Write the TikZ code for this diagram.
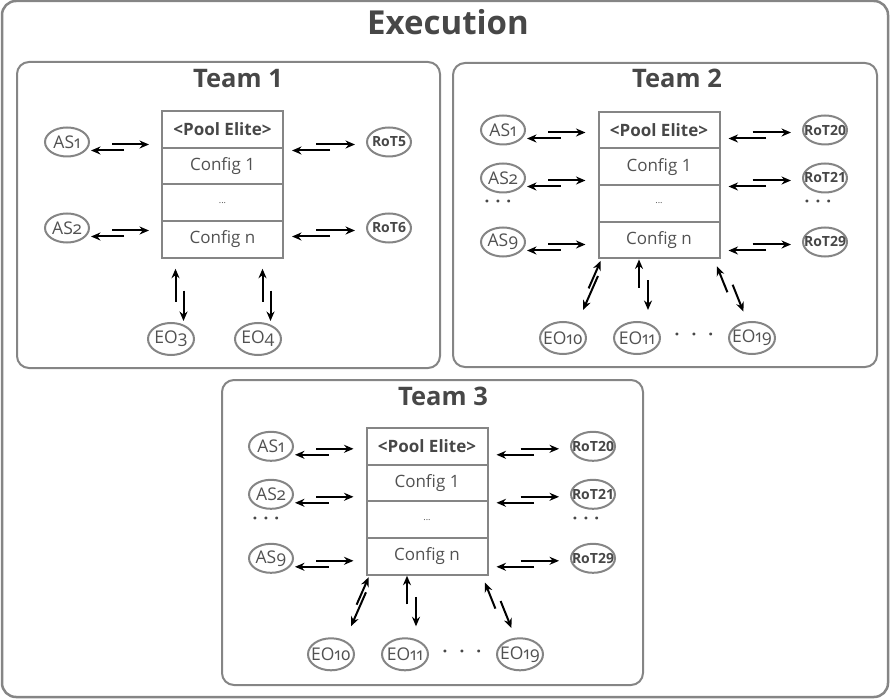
\documentclass[tikz,border=0pt]{standalone}
\usepackage{fontspec}
\setmainfont{Open Sans}
\newfontfamily\oldnums[Numbers=OldStyle]{Open Sans}
\usepackage{tikz}
\usetikzlibrary{arrows.meta}
\usetikzlibrary{positioning,shapes}

\definecolor{framegray}{HTML}{858585}
\definecolor{titlegray}{HTML}{474747}
\definecolor{textgray}{HTML}{515151}

\begin{document}
\begin{tikzpicture}[x=1pt,y=-1pt,>={Stealth[length=9.5pt,width=8pt]},on grid,node distance=36.7pt,
		frame/.style={draw=framegray,line width=2.5pt,rounded corners=14pt},
		teambox/.style={draw=framegray,line width=2pt,rounded corners=12pt},
		teamtitle/.style={text=titlegray,font=\fontsize{25.5}{28}\selectfont\bfseries},
		cell/.style={rectangle,draw=framegray,line width=2pt,minimum width=121pt,minimum height=36.7pt,inner sep=0pt,text=textgray,font=\fontsize{17}{19}\selectfont},
		agent/.style={ellipse,draw=framegray,line width=2pt,fill=white,minimum width=44pt,minimum height=29pt,inner xsep=-10pt,inner ysep=0pt,text=textgray,font=\oldnums\fontsize{17.5}{19}\selectfont},
		rotnode/.style={agent,text=titlegray,font=\fontsize{14}{16}\selectfont\bfseries},
		eonode/.style={agent,minimum width=46pt,minimum height=32pt},
		dots/.style={text=titlegray,font=\fontsize{17}{18}\selectfont\bfseries},
		arr/.style={->,line width=2pt},
		toPool/.style={arr,shorten <=22pt,shorten >=12pt,transform canvas={yshift=-2.5pt}},
		fromPool/.style={arr,shorten <=37pt,shorten >=1pt,transform canvas={yshift=-8.5pt}},
		toRot/.style={arr,shorten <=32pt,shorten >=11pt,transform canvas={yshift=-2.5pt}},
		fromRot/.style={arr,shorten <=36pt,shorten >=8pt,transform canvas={yshift=-8.5pt}},
		upArr/.style={arr,shorten <=33pt,shorten >=0pt},
		downArr/.style={arr,shorten <=21pt,shorten >=11pt}]
		\useasboundingbox (0,0) rectangle (891,700);
		
		% frames and titles
		\draw[frame] (2,1) rectangle (888,697);
		\node[text=titlegray,font=\fontsize{33}{36}\selectfont\bfseries] (exec) at (448,22) {Execution};
		\draw[teambox] (17,62) rectangle (440,368);
		\draw[teambox] (453,63) rectangle (877,367);
		\draw[teambox] (222,380) rectangle (643,685);
		\node[teamtitle] (team1) at (238,79) {Team 1};
		\node[teamtitle] (team2) at (677,78) {Team 2};
		\node[teamtitle] (team3) at (443,396) {Team 3};
		
		% team 1
		\node[cell,text=titlegray] (pool1) at (222.5,129.3) {\bfseries<Pool Elite>};
		\node[cell] (cfga1) [below=of pool1] {Config 1};
		\node[cell] (gap1)  [below=of cfga1] {\small...};
		\node[cell] (cfgn1) [below=of gap1] {Config n};
		
		\node[agent]   (as1t1)  [below left=12.7pt and 155.5pt of pool1]  {AS1};
		\node[agent]   (as2t1)  [below left=98.7pt and 155.5pt of pool1]  {AS2};
		\node[rotnode] (rot5t1) [below right=12.7pt and 166.5pt of pool1] {RoT5};
		\node[rotnode] (rot6t1) [below right=98.7pt and 166.5pt of pool1] {RoT6};
		\node[eonode]  (eo3t1)  [below=209.7pt of pool1,xshift=-51.5pt]   {EO3};
		\node[eonode]  (eo4t1)  [below=209.7pt of pool1,xshift=35.5pt]    {EO4};
		
		\foreach \k in {1,2}{
			\draw[toPool] (as\k t1.east) -- (as\k t1.east -| pool1.west);
			\draw[fromPool] (as\k t1.east -| pool1.west) -- (as\k t1.east);
		}
		\foreach \k in {5,6}{
			\draw[toRot] (rot\k t1.west -| pool1.east) -- (rot\k t1.west);
			\draw[fromRot] (rot\k t1.west) -- (rot\k t1.west -| pool1.east);
		}
		\foreach \k in {3,4}{
			\draw[upArr,shorten <=20pt,shorten >=10pt,transform canvas={xshift=4.5pt}] (eo\k t1.north) -- (eo\k t1.north |- cfgn1.south);
			\draw[downArr,shorten <=32pt,shorten >=1pt,transform canvas={xshift=12.5pt}] (eo\k t1.north |- cfgn1.south) -- (eo\k t1.north);
		}
		
		% teams 2 and 3 share one layout
		\foreach \tm/\px/\py in {2/659/130,3/427/446.3}{
			\node[cell,text=titlegray] (pool\tm) at (\px,\py) {\bfseries<Pool Elite>};
			\node[cell] (cfga\tm) [below=of pool\tm] {Config 1};
			\node[cell] (gap\tm)  [below=of cfga\tm] {\small...};
			\node[cell] (cfgn\tm) [below=of gap\tm] {Config n};
			
			\foreach \k/\dy in {1/0pt,2/48pt,9/112pt}{
				\node[agent] (as\k t\tm) [below left=\dy and 156pt of pool\tm] {AS\k};
				\draw[toPool] (as\k t\tm.east) -- (as\k t\tm.east -| pool\tm.west);
				\draw[fromPool] (as\k t\tm.east -| pool\tm.west) -- (as\k t\tm.east);
			}
			\foreach \k/\dy in {20/0pt,21/48pt,29/112pt}{
				\node[rotnode] (rot\k t\tm) [below right=\dy and 166pt of pool\tm] {RoT\k};
				\draw[toRot] (rot\k t\tm.west -| pool\tm.east) -- (rot\k t\tm.west);
				\draw[fromRot] (rot\k t\tm.west) -- (rot\k t\tm.west -| pool\tm.east);
			}
			\node[dots] (asdots\tm)  [below left=74pt and 161pt of pool\tm]  {·\hspace{6pt}·\hspace{6pt}·};
			\node[dots] (rotdots\tm) [below right=74pt and 159pt of pool\tm] {·\hspace{6pt}·\hspace{6pt}·};
			
			\node[eonode] (eo10t\tm) [below=208pt of pool\tm,xshift=-96pt] {EO10};
			\node[eonode] (eo11t\tm) [below=208pt of pool\tm,xshift=-22pt] {EO11};
			\node[eonode] (eo19t\tm) [below=208pt of pool\tm,xshift=93pt]  {EO19};
			\node[dots]   (eodots\tm) [below=207pt of pool\tm,xshift=35pt] {·\hspace{12pt}·\hspace{12pt}·};
			
			\draw[upArr,shorten <=38pt,shorten >=0pt,transform canvas={shift={(3.2pt,-1.4pt)}}] (eo10t\tm) -- (cfgn\tm.south west);
			\draw[downArr,shorten <=15pt,shorten >=16pt,transform canvas={shift={(6.5pt,-2.8pt)}}] (cfgn\tm.south west) -- (eo10t\tm);
			\draw[upArr,transform canvas={xshift=2pt}] (eo11t\tm.north) -- (eo11t\tm.north |- cfgn\tm.south);
			\draw[downArr,transform canvas={xshift=11pt}] (eo11t\tm.north |- cfgn\tm.south) -- (eo11t\tm.north);
			\draw[upArr,shorten <=34pt,shorten >=5pt,transform canvas={shift={(-5.4pt,-2.2pt)}}] (eo19t\tm) -- (cfgn\tm.south east);
			\draw[downArr,shorten <=28pt,shorten >=10pt,transform canvas={shift={(1.7pt,0.7pt)}}] (cfgn\tm.south east) -- (eo19t\tm);
		}
\end{tikzpicture}
\end{document}
